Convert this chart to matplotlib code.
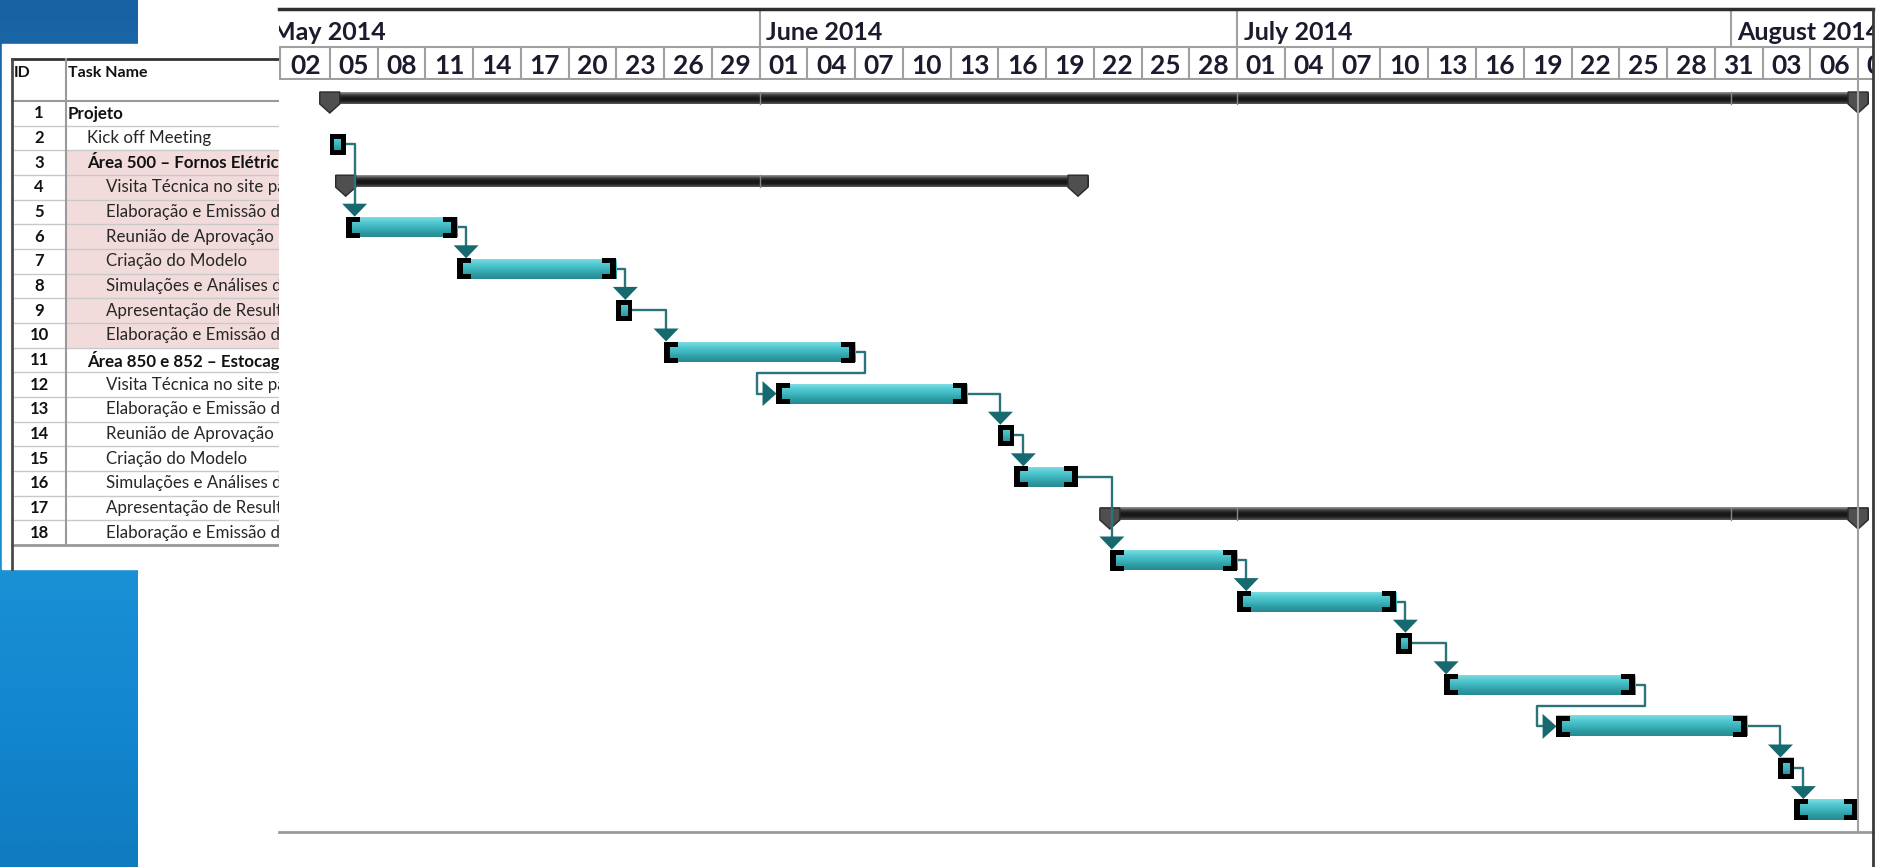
import numpy as np
import matplotlib
matplotlib.use('Agg')
import matplotlib.pyplot as plt
from matplotlib.patches import Rectangle, Polygon
from matplotlib.colors import LinearSegmentedColormap

plt.rcParams['font.family'] = ['Lato', 'DejaVu Sans']

# --- task table ---
task_ids = list(range(1, 19))
task_names = [
    'Projeto',
    'Kick off Meeting',
    'Área 500 – Fornos Elétricos',
    'Visita Técnica no site para levantamento',
    'Elaboração e Emissão do Relatório',
    'Reunião de Aprovação do Relatório',
    'Criação do Modelo',
    'Simulações e Análises dos Cenários',
    'Apresentação de Resultados',
    'Elaboração e Emissão do Relatório Final',
    'Área 850 e 852 – Estocagem',
    'Visita Técnica no site para levantamento',
    'Elaboração e Emissão do Relatório',
    'Reunião de Aprovação do Relatório',
    'Criação do Modelo',
    'Simulações e Análises dos Cenários',
    'Apresentação de Resultados',
    'Elaboração e Emissão do Relatório Final',
]
task_level = [0, 1, 1, 2, 2, 2, 2, 2, 2, 2, 1, 2, 2, 2, 2, 2, 2, 2]
is_summary = [True, False, True, False, False, False, False, False, False, False,
              True, False, False, False, False, False, False, False]
task_start = ['2014-05-05', '2014-05-05', '2014-05-06', '2014-05-06', '2014-05-13',
              '2014-05-23', '2014-05-26', '2014-06-02', '2014-06-16', '2014-06-17',
              '2014-06-23', '2014-06-23', '2014-07-01', '2014-07-11', '2014-07-14',
              '2014-07-21', '2014-08-04', '2014-08-05']
task_finish = ['2014-08-09', '2014-05-06', '2014-06-21', '2014-05-13', '2014-05-23',
               '2014-05-24', '2014-06-07', '2014-06-14', '2014-06-17', '2014-06-21',
               '2014-08-09', '2014-07-01', '2014-07-11', '2014-07-12', '2014-07-26',
               '2014-08-02', '2014-08-05', '2014-08-09']
shaded_rows = [3, 4, 5, 6, 7, 8, 9, 10]
links = [(2, 4), (4, 5), (5, 6), (6, 7), (7, 8), (8, 9), (9, 10), (10, 12),
         (12, 13), (13, 14), (14, 15), (15, 16), (16, 17), (17, 18)]

month_names = ['May 2014', 'June 2014', 'July 2014', 'August 2014']
month_starts = ['2014-05-01', '2014-06-01', '2014-07-01', '2014-08-01']
tick_first = '2014-05-02'
tick_step = 3
tick_last = '2014-08-09'

# --- layout (pixels) ---
W, H = 1878, 867
PX_DAY = 15.92
ROW_PX = 41.6
GX0, GX1 = 279, 1873
H_TOP, G_TOP, G_BOT = 9, 80, 832
X_ORIGIN = 282          # pixel of first tick date
ROW1_Y = 102.4

origin = np.datetime64(tick_first)


def day(d):
    return float((np.datetime64(d) - origin).astype(int))


def dx(px):
    return px / PX_DAY


def dy(px):
    return px / ROW_PX


starts = [day(d) for d in task_start]
finishes = [day(d) for d in task_finish]

teal = LinearSegmentedColormap.from_list('teal', ['#7fdde3', '#52c9d0', '#3fb6be', '#2e9ca3', '#288a90'])
dark = LinearSegmentedColormap.from_list('dark', ['#9a9a9a', '#3a3a3a', '#151515', '#1c1c1c', '#5a5a5a'])
blue = LinearSegmentedColormap.from_list('blue', [(0, '#1862a3'), (0.06, '#1967a7'), (0.4, '#1a7cc4'),
                                                  (0.66, '#1a90d5'), (0.85, '#1286cf'), (1, '#107bbf')])
grad = np.linspace(0, 1, 64).reshape(-1, 1)


def vgrad(ax, x0, x1, ytop, ybot, cmap, z):
    ax.imshow(grad, cmap=cmap, extent=(x0, x1, ybot, ytop), origin='upper',
              aspect='auto', interpolation='bilinear', zorder=z)


fig = plt.figure(figsize=(W / 100, H / 100), dpi=100)
fig.patch.set_facecolor('white')

# background + table (pixel coords)
ax_bg = fig.add_axes([0, 0, 1, 1])
ax_bg.set_zorder(0)
vgrad(ax_bg, 0, 138, 0, H, blue, 0)
ax_bg.add_patch(Rectangle((2, 44), 300, 525, color='white', zorder=1))

row_h = 24.66
row1_c = 113.5
for r in shaded_rows:
    ax_bg.add_patch(Rectangle((66, row1_c + (r - 1.5) * row_h), 220, row_h, color='#f2dcdb', lw=0, zorder=2))
for r in range(1, 19):
    yb = row1_c + (r - 0.5) * row_h
    ax_bg.plot([12, 285], [yb, yb], color='#c9c9c9', lw=1, zorder=3)
    yc = row1_c + (r - 1) * row_h
    ax_bg.text(39, yc, str(task_ids[r - 1]), ha='center', va='center', fontsize=12,
               fontweight='bold', color='#111111', zorder=4)
    bold = is_summary[r - 1]
    ax_bg.text(68 + task_level[r - 1] * 19, yc, task_names[r - 1], ha='left', va='center',
               fontsize=12.2, fontweight='bold' if bold else 'normal',
               color='#111111' if bold else '#262626', zorder=4)
ax_bg.plot([12, 285], [101.2, 101.2], color='#9a9a9a', lw=1.5, zorder=3)
ax_bg.plot([12, 285], [545, 545], color='#9a9a9a', lw=2, zorder=3)
ax_bg.plot([12, 285], [59, 59], color='#333333', lw=2, zorder=3)
ax_bg.plot([12, 12], [59, 569], color='#4a4a4a', lw=2, zorder=3)
ax_bg.plot([66, 66], [59, 545], color='#9a9a9a', lw=1.5, zorder=3)
ax_bg.text(14, 73, 'ID', ha='left', va='center', fontsize=11.5, fontweight='bold', color='#111111')
ax_bg.text(68, 73, 'Task Name', ha='left', va='center', fontsize=11.5, fontweight='bold', color='#111111')
ax_bg.set_xlim(0, W)
ax_bg.set_ylim(H, 0)
ax_bg.axis('off')

x_lo = (GX0 - X_ORIGIN) / PX_DAY
x_hi = (GX1 - X_ORIGIN) / PX_DAY


def plain(ax):
    ax.set_xticks([])
    ax.set_yticks([])
    for s in ax.spines.values():
        s.set_visible(False)
    ax.set_facecolor('white')


# timescale header
ax_h = fig.add_axes([GX0 / W, 1 - G_TOP / H, (GX1 - GX0) / W, (G_TOP - H_TOP) / H])
ax_h.set_zorder(2)
plain(ax_h)
mid = (47 - H_TOP) / (G_TOP - H_TOP)
hdr_col = '#1b1b2e'
for name, m in zip(month_names, month_starts):
    md = day(m)
    ax_h.plot([md, md], [0, mid], color='#a0a0a0', lw=1.5)
    ax_h.text(md + 0.4, mid / 2 + 0.06, name, ha='left', va='center', fontsize=18,
              fontweight='bold', color=hdr_col, clip_on=True)
ax_h.plot([x_lo, x_hi], [mid, mid], color='#a0a0a0', lw=1.5)
ax_h.plot([x_lo, x_hi], [0.99, 0.99], color='#a0a0a0', lw=1.5)
ax_h.plot([x_lo + 0.05, x_lo + 0.05], [mid, 1], color='#a0a0a0', lw=1.5)
tick_days = np.arange(day(tick_first), day(tick_last) + 1, tick_step)
for td in tick_days:
    date = (origin + np.timedelta64(int(td), 'D')).astype(object)
    if td > 0:
        ax_h.plot([td, td], [mid, 1], color='#a0a0a0', lw=1.5)
    ax_h.text(td + tick_step / 2, (mid + 1) / 2 + 0.03, f'{date.day:02d}', ha='center', va='center',
              fontsize=19, fontweight='bold', color=hdr_col, clip_on=True)
ax_h.set_xlim(x_lo, x_hi)
ax_h.set_ylim(1, 0)

# gantt body
ax_g = fig.add_axes([GX0 / W, 1 - G_BOT / H, (GX1 - GX0) / W, (G_BOT - G_TOP) / H])
ax_g.set_zorder(2)
plain(ax_g)

month_days = [day(m) for m in month_starts]
for i, r in enumerate(task_ids):
    s, f = starts[i], finishes[i]
    if is_summary[i]:
        yc = r + dy(-4.4)
        top, bot = yc - dy(6), yc + dy(6)
        vgrad(ax_g, s - dx(10), f + dx(10), top, bot, dark, 2)
        for md in month_days:
            if s < md < f:
                ax_g.plot([md, md], [top, bot], color='#8a8a8a', lw=1, zorder=2.1)
        for xm in (s, f):
            ax_g.add_patch(Polygon([(xm - dx(10), top), (xm + dx(10), top), (xm + dx(10), bot),
                                    (xm, bot + dy(9)), (xm - dx(10), bot)],
                                   closed=True, facecolor='#4f4f4f', edgecolor='#2a2a2a', lw=1, zorder=2.2))
    else:
        yc = r
        vgrad(ax_g, s, f, yc - dy(10), yc + dy(10), teal, 4)
        bw = min(dx(14), (f - s) / 2)
        tv = min(dx(6), (f - s) * 0.27)
        th, bh = dy(5), dy(10.5)
        for xe, sgn in ((s, 1), (f, -1)):
            xv = xe if sgn > 0 else xe - tv
            xa = xe if sgn > 0 else xe - bw
            ax_g.add_patch(Rectangle((xv, yc - bh), tv, 2 * bh, color='black', lw=0, zorder=4.5))
            ax_g.add_patch(Rectangle((xa, yc - bh), bw, th, color='black', lw=0, zorder=4.5))
            ax_g.add_patch(Rectangle((xa, yc + bh - th), bw, th, color='black', lw=0, zorder=4.5))

line_col = '#2b7479'
arrow_col = '#166a6f'
for p, q in links:
    pe, pr = finishes[p - 1], p
    qs, qr = starts[q - 1], q
    if qs >= pe - 0.01:
        xl = max(pe + dx(9), qs + dx(2))
        ax_g.plot([pe, xl, xl], [pr, pr, qr - dy(20)], color=line_col, lw=1.7,
                  solid_joinstyle='round', zorder=3)
        ax_g.add_patch(Polygon([(xl - dx(12.5), qr - dy(23.5)), (xl + dx(12.5), qr - dy(23.5)),
                                (xl, qr - dy(10.5))], closed=True, color=arrow_col, lw=0, zorder=3.5))
    else:
        xr = pe + dx(10)
        xlft = qs - dx(19)
        ym = pr + 0.5
        ax_g.plot([pe, xr, xr, xlft, xlft, qs - dx(11)], [pr, pr, ym, ym, qr, qr],
                  color=line_col, lw=1.7, solid_joinstyle='round', zorder=3)
        ax_g.add_patch(Polygon([(qs - dx(13), qr - dy(12.5)), (qs - dx(13), qr + dy(12.5)),
                                (qs + dx(1), qr)], closed=True, color=arrow_col, lw=0, zorder=3.5))

end_day = day(tick_last)
ax_g.plot([end_day, end_day], [0, 20], color='#a0a0a0', lw=1.5, zorder=5)
ax_g.set_xlim(x_lo, x_hi)
ax_g.set_ylim(1 + (G_BOT - ROW1_Y) / ROW_PX, 1 + (G_TOP - ROW1_Y) / ROW_PX)

# outer frame lines
ax_ov = fig.add_axes([0, 0, 1, 1])
ax_ov.set_zorder(5)
ax_ov.patch.set_alpha(0)
ax_ov.plot([GX0, GX1], [H_TOP, H_TOP], color='#2e2e2e', lw=2.5)
ax_ov.plot([GX0, GX1], [G_BOT, G_BOT], color='#9a9a9a', lw=2)
ax_ov.plot([GX1, GX1], [H_TOP, H], color='#3a3a3a', lw=2)
ax_ov.set_xlim(0, W)
ax_ov.set_ylim(H, 0)
ax_ov.axis('off')

fig.savefig('out.png', dpi=100, facecolor='white')
